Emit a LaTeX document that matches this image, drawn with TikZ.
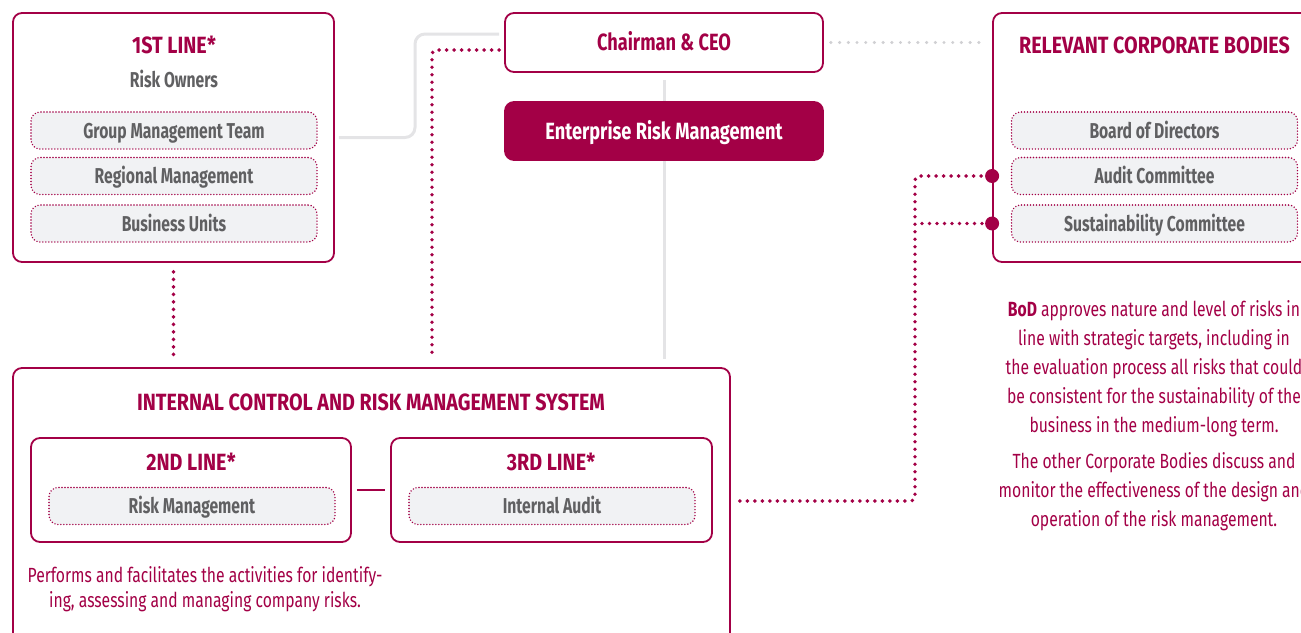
\documentclass[tikz,border=0pt]{standalone}
\usepackage{fontspec}
\setmainfont{Fira Sans}[FakeStretch=0.765]
\newfontfamily\capsfont{Fira Sans}[FakeStretch=0.84]
\newfontfamily\labelfont{Fira Sans}[FakeStretch=0.73]
\newfontfamily\headfont{Fira Sans}[FakeStretch=0.775]
\usetikzlibrary{calc}
\definecolor{crim}{RGB}{163,0,70}
\definecolor{txtgray}{RGB}{96,96,98}
\definecolor{subfill}{RGB}{241,242,244}
\definecolor{linegray}{RGB}{228,228,230}
\definecolor{dotgray}{RGB}{208,208,211}
\tikzset{
  frame/.style={draw=crim, line width=1.8pt, rounded corners=9pt, fill=white, inner sep=0pt},
  subbox/.style={draw=crim, line width=1.6pt, dash pattern=on 0pt off 3pt, line cap=round,
    rounded corners=9pt, fill=subfill, minimum width=286pt, minimum height=37pt, inner sep=0pt,
    font=\labelfont\fontsize{21.5}{24}\selectfont\bfseries, text=txtgray, text height=15pt, text depth=0pt},
  ttl/.style={font=\capsfont\fontsize{23.5}{26}\selectfont\bfseries, text=crim, inner sep=0pt, anchor=base},
  sub/.style={font=\labelfont\fontsize{21.5}{24}\selectfont\bfseries, text=txtgray, inner sep=0pt, anchor=base},
  body/.style={font=\fontsize{20.5}{24}\selectfont, text=crim, inner sep=0pt, anchor=base},
  headbox/.style={frame, minimum width=318pt, font=\headfont\fontsize{23.5}{26}\selectfont\bfseries,
    text height=16.3pt, text depth=0pt},
  grayline/.style={draw=linegray, line width=3pt, rounded corners=10pt},
  graydots/.style={draw=dotgray, line width=3.4pt, line cap=round, dash pattern=on 0pt off 8.7pt},
  reddots/.style={draw=crim, line width=3.9pt, line cap=round, dash pattern=on 0pt off 7.5pt, rounded corners=4pt},
  joint/.style={circle, fill=crim, minimum size=14pt, inner sep=0pt},
}
\begin{document}
\begin{tikzpicture}[x=1pt,y=-1pt]
\useasboundingbox (0,0) rectangle (1301,632);
\clip (0,0) rectangle (1301,632);

% ---- first line ----
\node[frame, minimum width=321pt, minimum height=249pt] (l1) at (173.5,137.5) {};
\node[ttl] (l1t) at (174,53) {1ST LINE*};
\node[sub] (l1s) at (174,87) {Risk Owners};
\node[subbox] (g1) at (174,130.5) {Group Management Team};
\node[subbox] (g2) at (174,176) {Regional Management};
\node[subbox] (g3) at (174,223.5) {Business Units};

% ---- top centre ----
\node[headbox, minimum height=59pt, text=crim] (chair) at (664,42.5) {Chairman \& CEO};
\node[headbox, fill=crim, minimum height=58pt, text=white] (erm) at (664,131) {Enterprise Risk Management};

% ---- corporate bodies ----
\node[frame, minimum width=320pt, minimum height=249pt] (rcb) at (1153,137.5) {};
\node[ttl] (rcbt) at (1154.5,53) {RELEVANT CORPORATE BODIES};
\node[subbox] (r1) at (1154.5,130.5) {Board of Directors};
\node[subbox] (r2) at (1154.5,176) {Audit Committee};
\node[subbox] (r3) at (1154.5,223.5) {Sustainability Committee};

% ---- internal control system ----
\node[frame, minimum width=717pt, minimum height=282pt] (icrms) at (371.5,509) {};
\node[ttl] (icrmst) at (371,410) {INTERNAL CONTROL AND RISK MANAGEMENT SYSTEM};
\node[frame, minimum width=320pt, minimum height=104pt] (l2) at (191,490) {};
\node[ttl] (l2t) at (191,470) {2ND LINE*};
\node[subbox] (rm) at (192,506) {Risk Management};
\node[frame, minimum width=321pt, minimum height=104pt] (l3) at (551.5,490) {};
\node[ttl] (l3t) at (551,470) {3RD LINE*};
\node[subbox] (ia) at (552,506) {Internal Audit};
\node[body] (pA) at (205,582) {Performs and facilitates the activities for identify-};
\node[body] (pB) at (205,607) {ing, assessing and managing company risks.};

% ---- notes on the right ----
\node[body] (n1) at (1154,316) {\textbf{BoD} approves nature and level of risks in};
\node[body] (n2) at (1154,345) {line with strategic targets, including in};
\node[body] (n3) at (1154,374) {the evaluation process all risks that could};
\node[body] (n4) at (1154,403) {be consistent for the sustainability of the};
\node[body] (n5) at (1154,432) {business in the medium-long term.};
\node[body] (n6) at (1154,468) {The other Corporate Bodies discuss and};
\node[body] (n7) at (1154,497) {monitor the effectiveness of the design and};
\node[body] (n8) at (1154,526) {operation of the risk management.};

% ---- joints on the corporate bodies frame ----
\node[joint] (dA) at (rcb.west |- r2) {};
\node[joint] (dB) at (rcb.west |- r3) {};

% ---- connectors ----
\coordinate (icTop) at ([yshift=8pt]icrms.north);
\coordinate (gA) at ([xshift=-5pt,yshift=8.5pt]chair.west);
\draw[grayline] ([xshift=4pt]l1.east) -- (415,137.5) -- (415,34) -- (gA);
\draw[grayline, rounded corners=0pt] ([yshift=-7pt]chair.south) -- (erm.north);
\draw[grayline, rounded corners=0pt] (erm.south) -- (erm.south |- icTop);
\path (rcb.west |- chair.east) coordinate (rcbIn);
\draw[graydots] ([xshift=7pt]chair.east) -- ([xshift=-8pt]rcbIn);

\draw[reddots] ([xshift=-5pt,yshift=-7.5pt]chair.west) -| (432,0 |- icTop);
\draw[reddots] ([yshift=-9pt]l1.south) -- (l1.south |- icTop);
\draw[crim, line width=2pt] ([xshift=5pt]l2.east) -- ([xshift=-5pt]l3.west);
\coordinate (icR) at ([xshift=9pt,yshift=8pt]icrms.east);
\draw[reddots] (icR) -| (915,0 |- dA) -- ([xshift=-1pt]dA.west);
\draw[reddots] (922,0 |- dB) -- ([xshift=-1pt]dB.west);
\end{tikzpicture}
\end{document}
